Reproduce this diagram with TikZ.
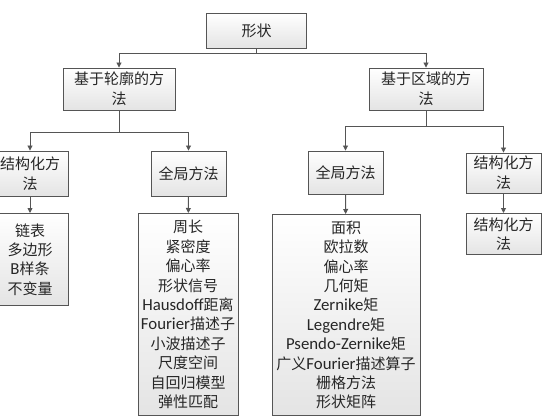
\documentclass[tikz,border=0pt]{standalone}
\usepackage{fontspec}
\setmainfont{Noto Sans CJK SC}
\newfontfamily\calib[Scale=1.12]{Carlito}
\usepackage{xcolor}
\usetikzlibrary{positioning,arrows.meta}
\definecolor{edgegrey}{HTML}{555555}
\definecolor{inkgrey}{HTML}{262626}
\definecolor{fillgrey}{HTML}{E4E4E4}
\tikzset{
  box/.style={rectangle, draw=edgegrey, line width=0.9pt, top color=white,
              bottom color=fillgrey, align=center, inner sep=1pt,
              font=\fontsize{15}{20}\selectfont, text=inkgrey},
  lst/.style={box, font=\fontsize{15}{19.4}\selectfont, anchor=north},
  ar/.style={-{Triangle[length=5pt,width=5pt]}, line width=0.9pt, draw=edgegrey},
  ln/.style={line width=0.9pt, draw=edgegrey},
}
\begin{document}
\begin{tikzpicture}[x=1pt,y=-1pt]
  \useasboundingbox (0,0) rectangle (549,417);
  \clip (0,0) rectangle (549,417);

  % root
  \node[box, minimum width=100pt, minimum height=35pt] (root) at (256.5,30.5) {形状};

  % second level
  \node[box, minimum width=112pt, minimum height=42pt] (contour) at (119,89) {基于轮廓的方\\法};
  \node[box, minimum width=114pt, minimum height=42pt] (region) at (426,89) {基于区域的方\\法};

  % third level
  \node[box, minimum width=76pt, minimum height=45pt] (cstruct) at (30,173.5) {结构化方\\法};
  \node[box, minimum width=75pt, minimum height=45pt] (cglobal) at (188.5,173.5) {全局方法};
  \node[box, minimum width=75pt, minimum height=43pt] (rglobal) at (345.5,172.5) {全局方法};
  \node[box, minimum width=75pt, minimum height=40pt] (rstruct) at (503.5,173) {结构化方\\法};

  % leaf lists
  \node[lst, minimum width=76pt, minimum height=92pt] (cstructlist) at (30,213)
    {链表\\多边形\\{\calib B}样条\\不变量};
  \node[lst, minimum width=100pt, minimum height=202pt] (cgloballist) at (188,213)
    {周长\\紧密度\\偏心率\\形状信号\\{\calib Hausdoff}距离\\{\calib Fourier}描述子\\小波描述子\\尺度空间\\自回归模型\\弹性匹配};
  \node[lst, minimum width=148pt, minimum height=201pt] (rgloballist) at (346,214)
    {面积\\欧拉数\\偏心率\\几何矩\\{\calib Zernike}矩\\{\calib Legendre}矩\\{\calib Psendo-Zernike}矩\\广义{\calib Fourier}描述算子\\栅格方法\\形状矩阵};
  \node[lst, minimum width=75pt, minimum height=41pt] (rstructlist) at (503.5,213) {结构化方\\法};

  % connectors
  \coordinate (rootsplit) at (256.5,53);
  \coordinate (csplit) at (119,132);
  \coordinate (rsplit) at (426,126);
  \draw[ln] (root.south) -- (rootsplit);
  \draw[ar] (rootsplit) -| (contour.north);
  \draw[ar] (rootsplit) -| (region.north);
  \draw[ln] (contour.south) -- (csplit);
  \draw[ar] (csplit) -| (cstruct.north);
  \draw[ar] (csplit) -| (cglobal.north);
  \draw[ln] (region.south) -- (rsplit);
  \draw[ar] (rsplit) -| (rglobal.north);
  \draw[ar] (rsplit) -| (rstruct.north);
  \draw[ar] (cstruct) -- (cstructlist);
  \draw[ar] (cglobal) -- (cgloballist);
  \draw[ar] (rglobal) -- (rgloballist);
  \draw[ar] (rstruct) -- (rstructlist);
\end{tikzpicture}
\end{document}
